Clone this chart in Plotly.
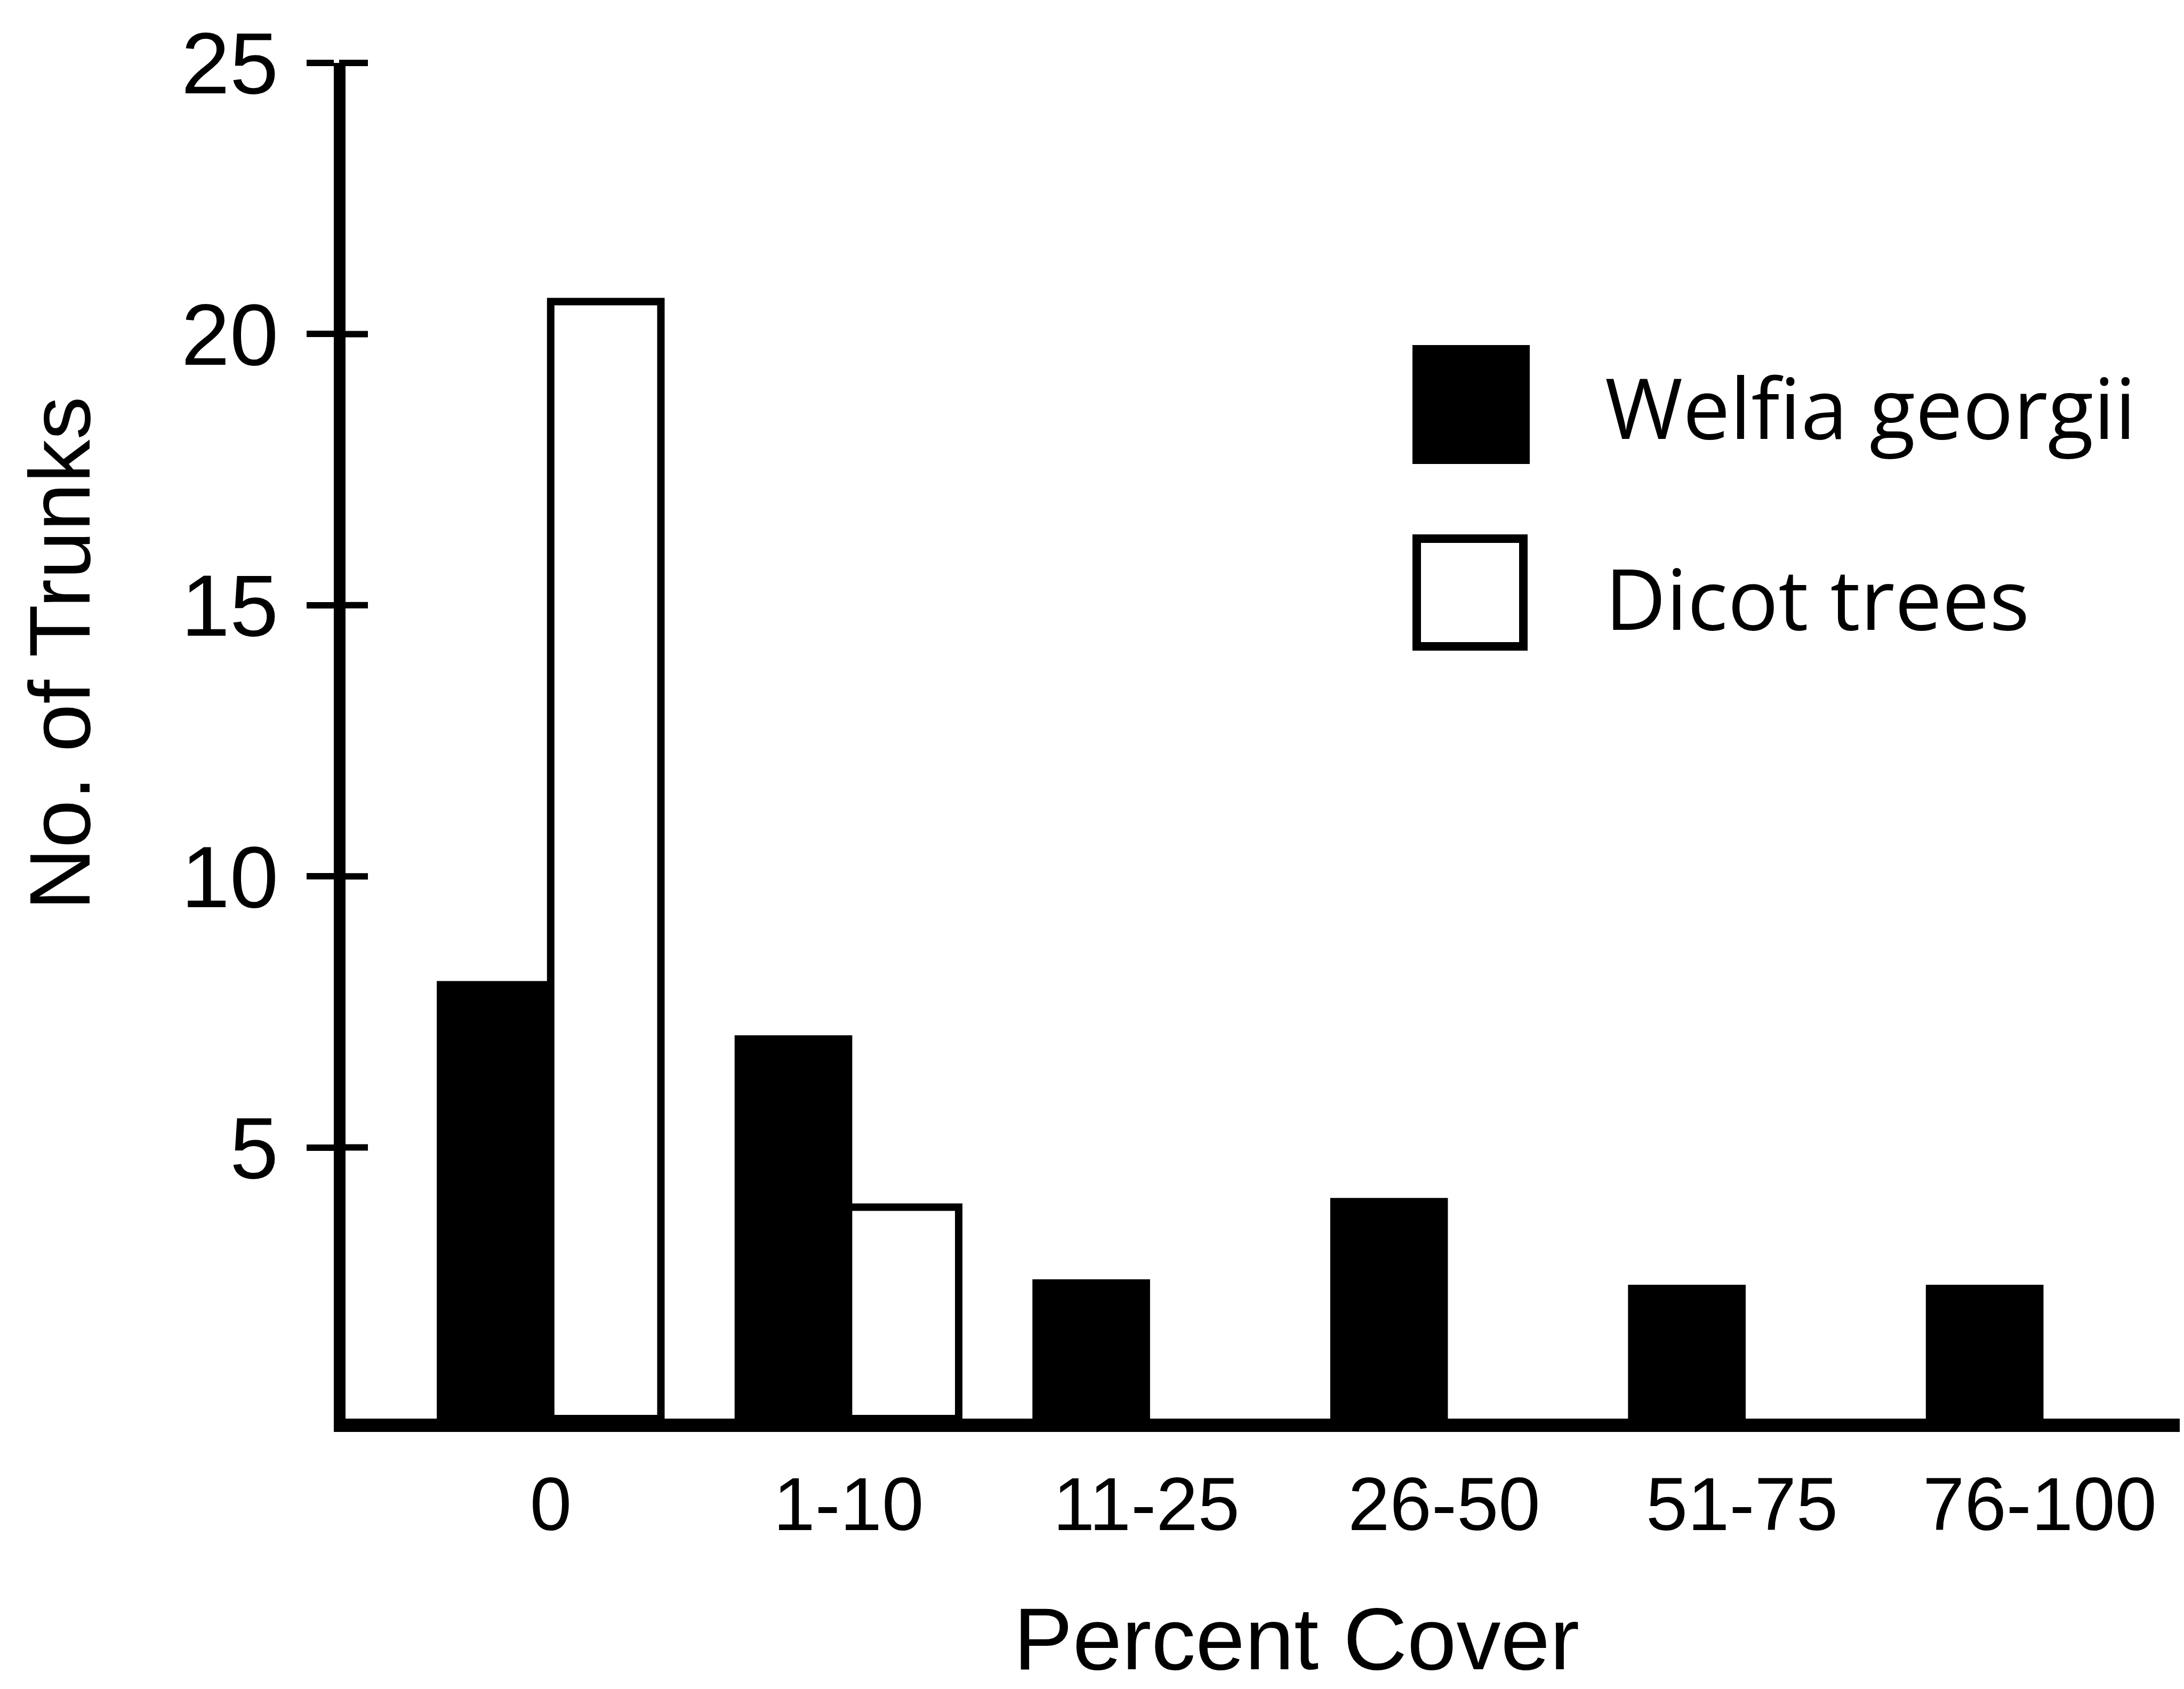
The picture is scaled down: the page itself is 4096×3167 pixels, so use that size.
import plotly.graph_objects as go

# ---- data ----
categories = ["0", "1-10", "11-25", "26-50", "51-75", "76-100"]
welfia = [8.0, 7.0, 2.5, 4.0, 2.4, 2.4]
dicot = [20.6, 3.9, None, None, None, None]
y_ticks = [5, 10, 15, 20, 25]
y_range = [0, 25]
series_names = ["Welfia georgii", "Dicot trees"]
x_title = "Percent Cover"
y_title = "No. of Trunks"

# ---- geometry (output pixels) ----
W, H = 4096, 3167
L, R, T, B = 640, 4080, 110, 2652   # plot area edges
AXIS_X = 628                        # centre of the y-axis line


def px(x):
    return (x - L) / (R - L)


def py(y):
    return (B - y) / (B - T)


def val_to_paper(v):
    return (v - y_range[0]) / (y_range[1] - y_range[0])


TICK_FONT = "Liberation Sans, Arial, Helvetica, sans-serif"
LEG_FONT = "Open Sans, Noto Sans, sans-serif"

fig = go.Figure()
fig.add_trace(go.Bar(
    x=categories, y=welfia, name=series_names[0],
    marker=dict(color="black", line=dict(color="black", width=14)),
    showlegend=False, hoverinfo="skip",
))
fig.add_trace(go.Bar(
    x=categories, y=dicot, name=series_names[1],
    marker=dict(color="white", line=dict(color="black", width=14)),
    showlegend=False, hoverinfo="skip",
))

fig.update_layout(
    width=W, height=H,
    margin=dict(l=L, r=W - R, t=T, b=H - B, pad=0),
    paper_bgcolor="white", plot_bgcolor="white",
    barmode="group", bargap=0.26, bargroupgap=0,
    showlegend=False,
    xaxis=dict(
        type="category", range=[-0.689, 5.47],
        showline=True, linecolor="black", linewidth=25,
        ticks="", showgrid=False, zeroline=False,
        tickfont=dict(family=TICK_FONT, size=141, color="black"),
        ticklabelstandoff=15,
    ),
    yaxis=dict(
        range=y_range, tickvals=y_ticks, ticktext=[str(v) for v in y_ticks],
        showline=True, linecolor="black", linewidth=22,
        ticks="outside", ticklen=51, tickwidth=12, tickcolor="black",
        showgrid=False, zeroline=False,
        tickfont=dict(family=TICK_FONT, size=164, color="black"),
        ticklabelstandoff=20,
    ),
)

# inner half of the crossing tick marks (paper refs so the top one is not clipped)
for v in y_ticks:
    fig.add_shape(type="line", xref="paper", yref="paper",
                  x0=px(AXIS_X), x1=px(AXIS_X + 54),
                  y0=val_to_paper(v), y1=val_to_paper(v),
                  line=dict(color="black", width=12), layer="above")

# legend keys
fig.add_shape(type="rect", xref="paper", yref="paper",
              x0=px(2641), x1=px(2861), y0=py(862), y1=py(639),
              fillcolor="black", line=dict(width=0))
fig.add_shape(type="rect", xref="paper", yref="paper",
              x0=px(2649), x1=px(2849), y0=py(1204), y1=py(1002),
              fillcolor="white", line=dict(color="black", width=16))

fig.add_annotation(text=series_names[0], xref="paper", yref="paper",
                   x=px(3000), y=py(753), xanchor="left", yanchor="middle",
                   showarrow=False, font=dict(family=LEG_FONT, size=158, color="black"))
fig.add_annotation(text=series_names[1], xref="paper", yref="paper",
                   x=px(3000), y=py(1111), xanchor="left", yanchor="middle",
                   showarrow=False, font=dict(family=LEG_FONT, size=158, color="black"))

# axis titles
fig.add_annotation(text=y_title, xref="paper", yref="paper",
                   x=px(103), y=py(1218), xanchor="center", yanchor="middle",
                   textangle=-90, showarrow=False,
                   font=dict(family=TICK_FONT, size=162, color="black"))
fig.add_annotation(text=x_title, xref="paper", yref="paper",
                   x=px(2423), y=py(3064), xanchor="center", yanchor="middle",
                   showarrow=False,
                   font=dict(family=TICK_FONT, size=166, color="black"))

fig.write_html("out.html")
